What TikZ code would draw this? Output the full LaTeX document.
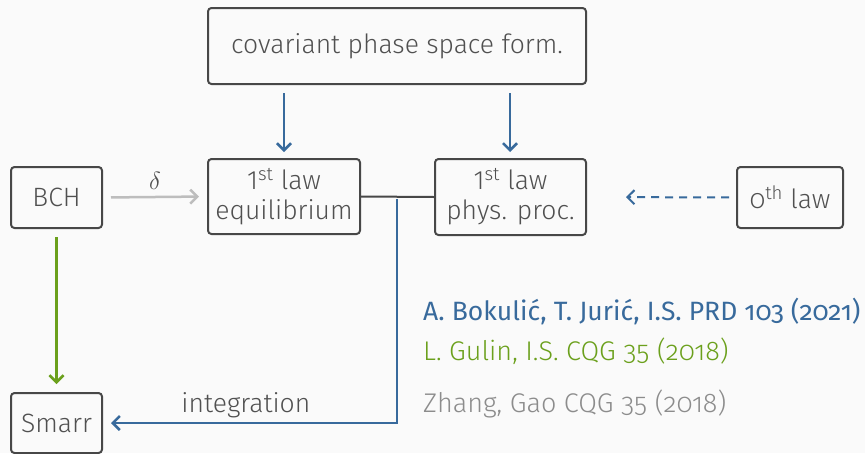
\documentclass[tikz,border=0pt]{standalone}
\usepackage{fontspec}
\setmainfont{Fira Sans}[UprightFont={* Light},Numbers=OldStyle]
\newfontfamily\firareg{Fira Sans}[Numbers=OldStyle]
\usetikzlibrary{arrows.meta}
\definecolor{bg}{HTML}{FAFAFA}
\definecolor{boxc}{HTML}{474747}
\definecolor{txt}{HTML}{505050}
\definecolor{myblue}{HTML}{386A9C}
\definecolor{mygreen}{HTML}{6BA01C}
\definecolor{lgray}{HTML}{BDBDBD}
\definecolor{rgray}{HTML}{8C8C8C}
\newcommand{\lin}[1]{{\addfontfeature{Numbers=Lining}#1}}
\tikzset{
  bx/.style={draw=boxc, line width=2pt, rounded corners=3.5pt, fill=bg, text=txt, inner sep=0pt, align=center, font=\fontsize{26.5}{30}\selectfont},
  arr/.style={line width=2.5pt, -{Straight Barb[length=7pt,width=14pt]}},
  reftext/.style={anchor=base west, inner sep=0pt, font=\fontsize{27}{30}\selectfont},
}
\begin{document}
\begin{tikzpicture}[x=1pt,y=-1pt]
\fill[bg] (0,0) rectangle (865,453);
\useasboundingbox (0,0) rectangle (865,453);
\node[bx, minimum width=378pt, minimum height=76pt] (top) at (397,46) {covariant phase space form.};
\node[bx, minimum width=91pt, minimum height=61pt] (bch) at (56.5,197.5) {BCH};
\node[bx, minimum width=152pt, minimum height=75pt] (eq) at (284,196.5) {\lin{1}\textsuperscript{st} law\\equilibrium};
\node[bx, minimum width=151pt, minimum height=76pt] (pp) at (510.5,197) {\lin{1}\textsuperscript{st} law\\phys. proc.};
\node[bx, minimum width=106pt, minimum height=61pt] (zero) at (790,197.5) {0\textsuperscript{th} law};
\node[bx, minimum width=91pt, minimum height=60pt] (smarr) at (56.5,423) {Smarr};
\coordinate (j) at (397,199);
\coordinate (eqt) at (284,159);
\coordinate (ppt) at (510,159);
\draw[arr, myblue, shorten <=8pt, shorten >=7pt] (top.south -| eqt) -- (eqt);
\draw[arr, myblue, shorten <=8pt, shorten >=7pt] (top.south -| ppt) -- (ppt);
\draw[line width=2pt, boxc] (eq.east) -- (pp.west);
\draw[arr, lgray, shorten <=8pt, shorten >=8pt] (bch.east) -- node[above=3pt, text=txt, font=\fontsize{27}{30}\selectfont] {$\delta$} (eq.west);
\draw[arr, mygreen, shorten <=8pt, shorten >=8pt] (bch.south) -- (smarr.north);
\draw[arr, myblue, dashed, dash pattern=on 8pt off 6pt, line width=2pt, shorten <=7pt, shorten >=39pt] (zero.west) -- (pp.east);
\draw[arr, myblue, shorten >=8pt] (j) |- node[pos=0.757, above=0pt, text=txt, font=\fontsize{26.5}{30}\selectfont] {integration} (smarr.east);
\node[reftext, text=myblue, font=\fontsize{26.5}{30}\firareg] (r1) at (423,320) {A. Bokulić, T. Jurić, I.S. PRD 103 (2021)};
\node[reftext, text=mygreen] (r2) at (423,360) {L. Gulin, I.S. CQG 35 (2018)};
\node[reftext, text=rgray] (r3) at (423,412) {Zhang, Gao CQG 35 (2018)};
\end{tikzpicture}
\end{document}
